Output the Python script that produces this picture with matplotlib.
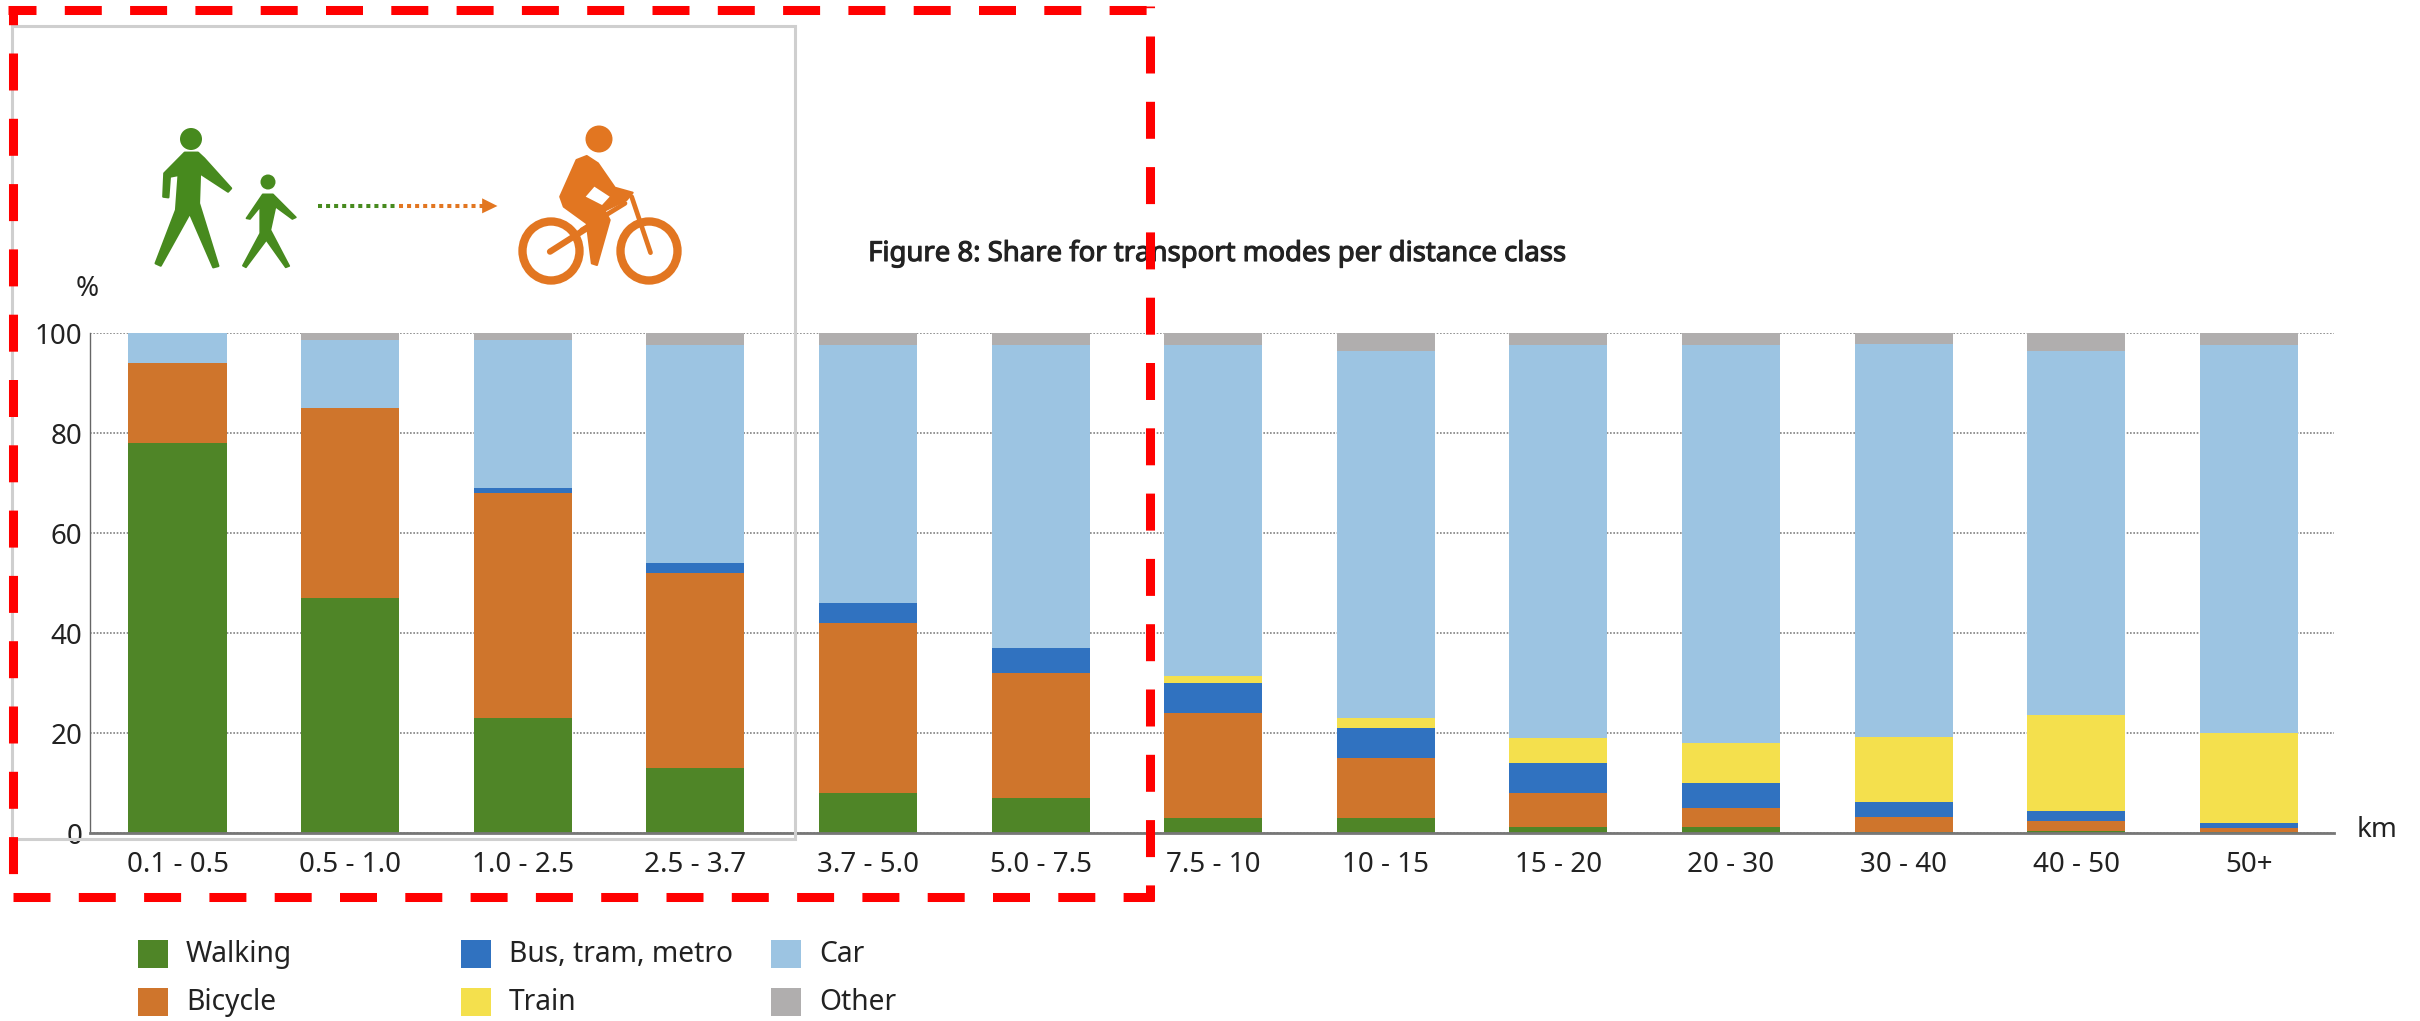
import numpy as np
import matplotlib
matplotlib.use('Agg')
import matplotlib.pyplot as plt
import matplotlib.patheffects as pe
from matplotlib.patches import Rectangle, Polygon, Ellipse

plt.rcParams['font.family'] = ['Noto Sans', 'DejaVu Sans']
plt.rcParams['lines.scale_dashes'] = False

W, H = 2420, 1021
TEXT = '#222222'

distance_classes = ['0.1 - 0.5', '0.5 - 1.0', '1.0 - 2.5', '2.5 - 3.7', '3.7 - 5.0', '5.0 - 7.5', '7.5 - 10',
                    '10 - 15', '15 - 20', '20 - 30', '30 - 40', '40 - 50', '50+']
y_ticks = [0, 20, 40, 60, 80, 100]

walking = [78, 47, 23, 13, 8, 7, 3, 3, 1.3, 1.3, 0.3, 0.5, 0.2]
bicycle = [16, 38, 45, 39, 34, 25, 21, 12, 6.7, 3.7, 3, 2, 0.8]
bus = [0, 0, 1, 2, 4, 5, 6, 6, 6, 5, 3, 2, 1.1]
train = [0, 0, 0, 0, 0, 0, 1.5, 2, 5, 8, 13, 19.1, 17.9]
car = [6, 13.5, 29.5, 43.5, 51.5, 60.5, 66, 73.3, 78.5, 79.5, 78.4, 72.8, 77.5]
other = [0, 1.5, 1.5, 2.5, 2.5, 2.5, 2.5, 3.7, 2.5, 2.5, 2.3, 3.6, 2.5]

modes = ['Walking', 'Bicycle', 'Bus, tram, metro', 'Train', 'Car', 'Other']
mode_values = [walking, bicycle, bus, train, car, other]
mode_colors = ['#4f8527', '#cf752c', '#3072c0', '#f4e04d', '#9cc4e2', '#b0aeae']

fig = plt.figure(figsize=(W / 100, H / 100), dpi=100, facecolor='white')

# main chart, placed in pixels
ax = fig.add_axes([90 / W, 1 - 833 / H, (2334 - 90) / W, 500 / H])
x = np.arange(len(distance_classes))
bottom = np.zeros(len(x))
for values, color in zip(mode_values, mode_colors):
    ax.bar(x, values, width=0.568, bottom=bottom, color=color, zorder=3)
    bottom += np.array(values)

ax.set_xlim(-0.507, 12.494)
ax.set_ylim(0, 100)
ax.set_yticks(y_ticks)
ax.set_xticks(x, distance_classes)
ax.tick_params(axis='both', length=0, labelsize=20, labelcolor=TEXT)
ax.tick_params(axis='x', pad=13)
ax.tick_params(axis='y', pad=5.5)
ax.grid(axis='y', color='#777777', linestyle=(0, (1.2, 1.2)), linewidth=1.1, zorder=1)
for side in ['top', 'right']:
    ax.spines[side].set_visible(False)
ax.spines['left'].set_color('#666666')
ax.spines['left'].set_linewidth(1)
ax.spines['bottom'].set_color('#777777')
ax.spines['bottom'].set_linewidth(2)
ax.spines['bottom'].set_zorder(4)

# overlay in image pixels for legend, icons and frames
ov = fig.add_axes([0, 0, 1, 1], facecolor='none')
ov.set_xlim(0, W)
ov.set_ylim(H, 0)
ov.axis('off')

ov.text(1217, 254, 'Figure 8: Share for transport modes per distance class', fontsize=19.8, color=TEXT,
        ha='center', va='center', path_effects=[pe.withStroke(linewidth=0.8, foreground=TEXT)])
ov.text(87, 289, '%', fontsize=20, color=TEXT, ha='center', va='center')
ov.text(2377, 830, 'km', fontsize=20, color=TEXT, ha='center', va='center')

# legend
legend_x = [138, 138, 461, 461, 771, 771]
legend_y = [940, 988, 940, 988, 940, 988]
for name, color, lx, ly in zip(modes, mode_colors, legend_x, legend_y):
    ov.add_patch(Rectangle((lx, ly), 30, 28, color=color, lw=0))
    ov.text(lx + 48, ly + 14, name, fontsize=20.3, color=TEXT, ha='left', va='center')

# grey picture frame
ov.add_patch(Rectangle((12, 26), 783, 813, fill=False, ec='#cfcfcf', lw=2.2))


def z(points):
    return [(px / 1.96, py / 3) for px, py in points]


GREEN = '#478a1e'
ORANGE = '#e27621'

# adult
ov.add_patch(Ellipse((191, 139), 22, 22, color=GREEN, lw=0))
ov.add_patch(Polygon(z([(362, 458), (388, 458), (400, 475), (453, 565), (447, 575), (392, 520), (390, 610),
                        (428, 798), (418, 802), (372, 640), (315, 797), (305, 790), (345, 630), (350, 525),
                        (333, 530), (330, 592), (320, 590), (322, 520)]),
                     fc=GREEN, ec=GREEN, lw=1.6, joinstyle='round'))
# child
ov.add_patch(Ellipse((268, 182), 15, 15, color=GREEN, lw=0))
ov.add_patch(Polygon(z([(515, 583), (535, 583), (580, 652), (573, 657), (540, 620), (530, 690), (567, 798),
                        (560, 802), (522, 720), (482, 802), (476, 797), (510, 700), (510, 620), (490, 657),
                        (483, 655)]),
                     fc=GREEN, ec=GREEN, lw=1.2, joinstyle='round'))

# dotted arrow
ov.plot([318, 396], [206, 206], color=GREEN, lw=2.9, linestyle=(0, (2.9, 2.9)))
ov.plot([399, 483], [206, 206], color=ORANGE, lw=2.9, linestyle=(0, (2.9, 2.9)))
ov.add_patch(Polygon(z([(945, 595), (975, 618), (945, 640)]), color=ORANGE, lw=0))

# cyclist
ov.add_patch(Ellipse((599, 139), 27, 27, color=ORANGE, lw=0))
for wheel_x in [551, 649]:
    ov.add_patch(Ellipse((wheel_x, 251), 57, 59, fill=False, ec=ORANGE, lw=6))
ov.add_patch(Polygon(z([(1130, 480), (1150, 468), (1172, 490), (1205, 563), (1240, 578), (1228, 600), (1185, 632),
                        (1195, 660), (1170, 795), (1160, 790), (1150, 670), (1105, 620), (1098, 590)]),
                     fc=ORANGE, ec=ORANGE, lw=1.5, joinstyle='round'))
ov.add_patch(Polygon(z([(1165, 560), (1195, 590), (1180, 615), (1148, 590)]), color='white', lw=0))
for seg, lw in [([(1078, 755), (1160, 675)], 4.5), ([(1238, 590), (1275, 758)], 3.4), ([(1140, 690), (1225, 610)], 3.4)]:
    pts = z(seg)
    ov.plot([pts[0][0], pts[1][0]], [pts[0][1], pts[1][1]], color=ORANGE, lw=lw, solid_capstyle='round')


def red_side(x0, y0, x1, y1, offset):
    # dash 37 px, gap 28.3 px; offset is how far into the pattern the side starts
    ov.plot([x0, x1], [y0, y1], color='#ff0000', lw=6.5, dash_capstyle='butt',
            linestyle=(offset * 0.72, (37 * 0.72, 28.3 * 0.72)), zorder=10)


red_side(8, 10.5, 1150, 10.5, 9)
red_side(12.5, 6, 12.5, 900, 18.3)
red_side(13, 896.5, 1154, 896.5, 0)
red_side(1149.5, 6, 1149.5, 901, 35.3)

fig.savefig('out.png', dpi=100)
